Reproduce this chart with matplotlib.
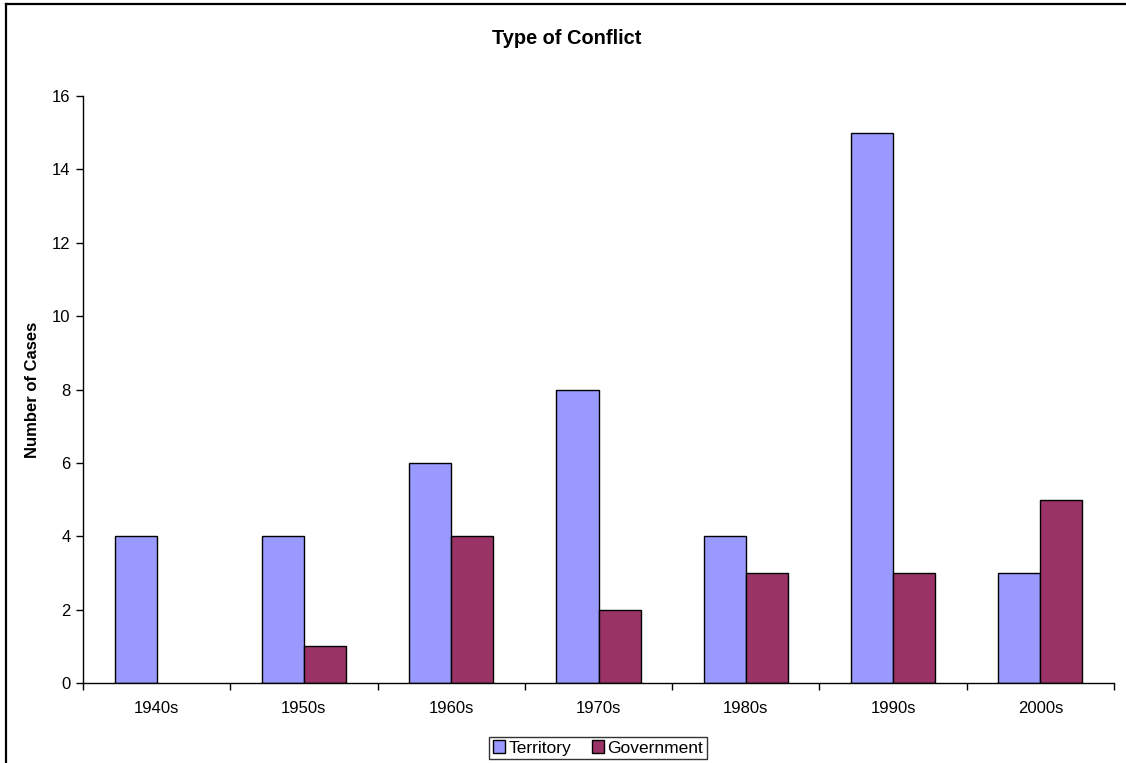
import matplotlib
matplotlib.use("Agg")
import matplotlib.pyplot as plt
import numpy as np
from matplotlib.patches import Patch

decades = ["1940s", "1950s", "1960s", "1970s", "1980s", "1990s", "2000s"]
territory = [4, 4, 6, 8, 4, 15, 3]
government = [0, 1, 4, 2, 3, 3, 5]
yticks = [0, 2, 4, 6, 8, 10, 12, 14, 16]

plt.rcParams['font.family'] = ['Liberation Sans', 'DejaVu Sans']

W, H = 1126, 763
fig = plt.figure(figsize=(W / 100, H / 100), dpi=100)
fig.patch.set_facecolor("white")

# chart-area frame (left and top edges visible)
fig.add_artist(plt.Line2D([6 / W, 6 / W], [0, 1 - 4 / H], transform=fig.transFigure,
                          color="black", lw=1.6))
fig.add_artist(plt.Line2D([6 / W, 1], [1 - 4 / H, 1 - 4 / H], transform=fig.transFigure,
                          color="black", lw=1.6))

left, right, top, bottom = 83, 1114, 96, 683
ax = fig.add_axes([left / W, 1 - bottom / H, (right - left) / W, (bottom - top) / H])

x = np.arange(len(decades))
bw = 1 / 3.5


def edge_widths(vals):
    # zero-height bars get no outline
    return [1.0 if v else 0.0 for v in vals]


ax.bar(x - bw / 2, territory, width=bw, color="#9999FF", edgecolor="black",
       linewidth=edge_widths(territory), label="Territory")
ax.bar(x + bw / 2, government, width=bw, color="#993366", edgecolor="black",
       linewidth=edge_widths(government), label="Government")

ax.set_xlim(-0.5, len(decades) - 0.5)
ax.set_ylim(0, 16)
ax.set_yticks(yticks)
ax.set_yticklabels([str(v) for v in yticks], fontsize=12)
ax.set_xticks(x)
ax.set_xticklabels(decades, fontsize=12)
ax.set_xticks(np.arange(-0.5, len(decades)), minor=True)
ax.tick_params(axis="x", which="major", length=0, pad=13)
ax.tick_params(axis="x", which="minor", length=5, width=1, direction="out")
ax.tick_params(axis="y", length=5, width=1, direction="out", pad=4)

for s in ["top", "right"]:
    ax.spines[s].set_visible(False)
for s in ["left", "bottom"]:
    ax.spines[s].set_linewidth(1.0)

fig.text(567 / W, 1 - 38 / H, "Type of Conflict", ha="center", va="center",
         fontsize=14.4, fontweight="bold")
fig.text(33 / W, 1 - 390 / H, "Number of Cases", ha="center", va="center",
         rotation=90, fontsize=12, fontweight="bold")

handles = [Patch(facecolor="#9999FF", edgecolor="black", lw=1.0),
           Patch(facecolor="#993366", edgecolor="black", lw=1.0)]
leg = fig.legend(handles, ["Territory", "Government"], loc="center",
                 bbox_to_anchor=(598 / W, 1 - 748 / H), ncol=2, fontsize=12.5,
                 frameon=True, fancybox=False, handlelength=0.7, handleheight=0.7,
                 handletextpad=0.2, columnspacing=1.2, borderpad=0.2,
                 borderaxespad=0)
leg.get_frame().set_edgecolor("black")
leg.get_frame().set_linewidth(1.0)

fig.savefig("out.png", dpi=100, facecolor="white")
